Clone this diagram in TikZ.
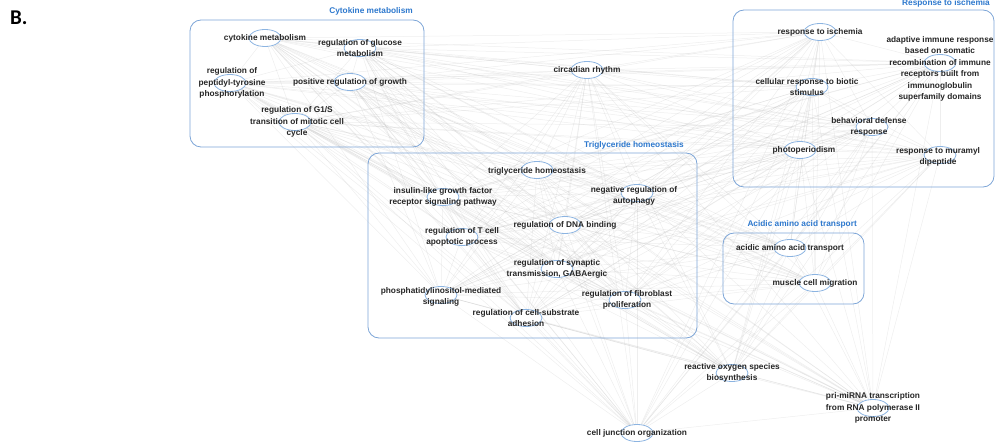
\documentclass[tikz,border=0pt]{standalone}
\usepackage{fontspec}
\setmainfont{Liberation Sans}
\newfontfamily\panelfont{Carlito}
\usetikzlibrary{shapes.geometric,backgrounds}
\definecolor{grpblue}{RGB}{125,165,215}
\definecolor{titleblue}{RGB}{45,120,205}
\definecolor{nodeblue}{RGB}{140,180,225}
\tikzset{
  gene/.style={ellipse,draw=nodeblue,line width=0.8pt,fill=white,minimum width=32pt,minimum height=17pt,inner sep=0pt},
  lbl/.style={align=center,font=\fontsize{8.3}{11.5}\selectfont\bfseries,text=black!85,inner sep=0pt},
  grp/.style={draw=grpblue,line width=0.8pt,rounded corners=11pt},
  grptitle/.style={anchor=east,font=\fontsize{8.3}{10}\selectfont\bfseries,text=titleblue,inner sep=0pt},
  edge/.style={draw=black!30,line width=0.5pt,opacity=0.22},
}
\def\genes{cytmet,gluc,ptyr,posgrow,gones,circ,trig,igf,negaut,dnab,tcell,gaba,pip,fibro,adhes,ischem,adapt,biotic,behav,photo,muram,acidic,muscle,ros,primirna,celljunc}

\begin{document}
\begin{tikzpicture}[x=1pt,y=-1pt]
\useasboundingbox (0,0) rectangle (995,446);

\node[font=\panelfont\fontsize{21}{21}\selectfont\bfseries,anchor=base west,inner sep=0pt] (panel) at (10,25) {B.};

\node[gene] (cytmet) at (265,38) {};
\node[gene] (gluc) at (360,48) {};
\node[gene] (ptyr) at (230,83) {};
\node[gene] (posgrow) at (350,82) {};
\node[gene] (gones) at (295,122) {};
\node[gene] (circ) at (587,70) {};
\node[gene] (trig) at (537,170) {};
\node[gene] (igf) at (443,197) {};
\node[gene] (negaut) at (637,193) {};
\node[gene] (dnab) at (565,225) {};
\node[gene] (tcell) at (462,237) {};
\node[gene] (gaba) at (557,269) {};
\node[gene] (pip) at (441,295) {};
\node[gene] (fibro) at (625,300) {};
\node[gene] (adhes) at (526,318) {};
\node[gene] (ischem) at (820,32) {};
\node[gene] (adapt) at (940,63) {};
\node[gene] (biotic) at (812,87) {};
\node[gene] (behav) at (872,127) {};
\node[gene] (photo) at (800,150) {};
\node[gene] (muram) at (940,155) {};
\node[gene] (acidic) at (790,248) {};
\node[gene] (muscle) at (815,283) {};
\node[gene] (ros) at (732,373) {};
\node[gene] (primirna) at (873,408) {};
\node[gene] (celljunc) at (637,433) {};

\begin{pgfonlayer}{background}
\foreach \a [count=\i] in \genes {
  \foreach \b [count=\j] in \genes {
    \ifnum\j>\i \draw[edge] (\a) -- (\b); \fi
  }
}
\end{pgfonlayer}

\draw[grp] (190,20) rectangle (424,147);
\draw[grp] (368,153) rectangle (697,338);
\draw[grp] (733,10) rectangle (994,187);
\draw[grp] (723,233) rectangle (864,304);
\node[grptitle] (cytgrp) at (413,11) {Cytokine metabolism};
\node[grptitle] (triggrp) at (684,145) {Triglyceride homeostasis};
\node[grptitle] (ischgrp) at (990,3) {Response to ischemia};
\node[grptitle] (acidgrp) at (857,224) {Acidic amino acid transport};

\node[lbl] (cytmet-l) at (cytmet) {cytokine metabolism};
\node[lbl] (gluc-l) at (gluc) {regulation of glucose\\metabolism};
\node[lbl,xshift=2pt] (ptyr-l) at (ptyr) {regulation of\\peptidyl-tyrosine\\phosphorylation};
\node[lbl] (posgrow-l) at (posgrow) {positive regulation of growth};
\node[lbl,xshift=2pt] (gones-l) at (gones) {regulation of G1/S\\transition of mitotic cell\\cycle};
\node[lbl] (circ-l) at (circ) {circadian rhythm};
\node[lbl,yshift=-1pt] (trig-l) at (trig) {triglyceride homeostasis};
\node[lbl] (igf-l) at (igf) {insulin-like growth factor\\receptor signaling pathway};
\node[lbl,xshift=-3pt,yshift=-3pt] (negaut-l) at (negaut) {negative regulation of\\autophagy};
\node[lbl] (dnab-l) at (dnab) {regulation of DNA binding};
\node[lbl] (tcell-l) at (tcell) {regulation of T cell\\apoptotic process};
\node[lbl] (gaba-l) at (gaba) {regulation of synaptic\\transmission, GABAergic};
\node[lbl,yshift=-2pt] (pip-l) at (pip) {phosphatidylinositol-mediated\\signaling};
\node[lbl,xshift=2pt] (fibro-l) at (fibro) {regulation of fibroblast\\proliferation};
\node[lbl] (adhes-l) at (adhes) {regulation of cell-substrate\\adhesion};
\node[lbl] (ischem-l) at (ischem) {response to ischemia};
\node[lbl,yshift=-6pt] (adapt-l) at (adapt) {adaptive immune response\\based on somatic\\recombination of immune\\receptors built from\\immunoglobulin\\superfamily domains};
\node[lbl,xshift=-5pt] (biotic-l) at (biotic) {cellular response to biotic\\stimulus};
\node[lbl,xshift=-3pt] (behav-l) at (behav) {behavioral defense\\response};
\node[lbl,xshift=4pt] (photo-l) at (photo) {photoperiodism};
\node[lbl,xshift=-2pt,yshift=-2pt] (muram-l) at (muram) {response to muramyl\\dipeptide};
\node[lbl] (acidic-l) at (acidic) {acidic amino acid transport};
\node[lbl] (muscle-l) at (muscle) {muscle cell migration};
\node[lbl] (ros-l) at (ros) {reactive oxygen species\\biosynthesis};
\node[lbl] (primirna-l) at (primirna) {pri-miRNA transcription\\from RNA polymerase II\\promoter};
\node[lbl] (celljunc-l) at (celljunc) {cell junction organization};
\end{tikzpicture}
\end{document}
